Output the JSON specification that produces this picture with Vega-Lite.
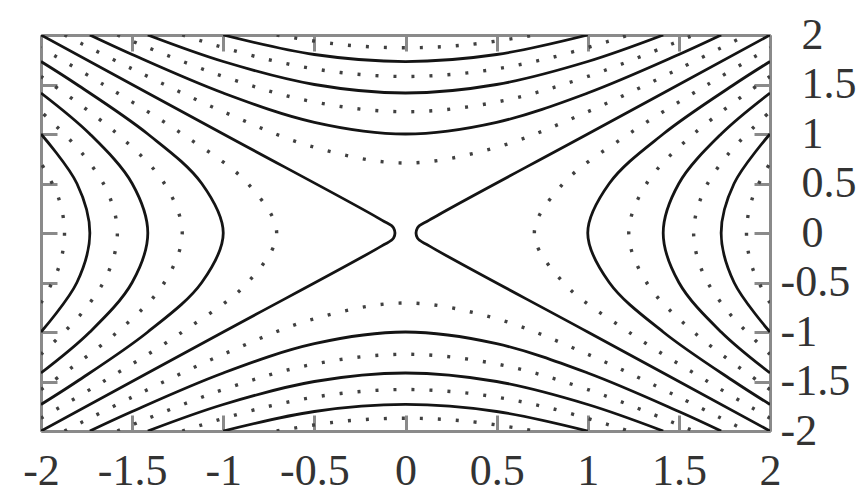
{
 "$schema": "https://vega.github.io/schema/vega-lite/v6.json",
 "width": 729, "height": 396,
 "autosize": {"type": "none"},
 "padding": {"left": 41, "top": 35, "right": 88, "bottom": 56},
 "background": "white",
 "config": {
  "view": {"stroke": null},
  "axis": {"grid": false, "title": null, "tickSize": -16, "tickWidth": 3, "tickColor": "#8a8a8a", "domainColor": "#8a8a8a", "domainWidth": 3, "labelFont": "Liberation Serif", "labelFontSize": 44, "labelColor": "#333", "labelOverlap": false, "labelFlush": false, "labelBound": false}
 },
 "datasets": {
  "solid": [
   {"k":1,"i":0,"x":2,"y":-1.732},{"k":1,"i":1,"x":1.803,"y":-1.5},{"k":1,"i":2,"x":1.414,"y":-1},{"k":1,"i":3,"x":1.118,"y":-0.5},{"k":1,"i":4,"x":1,"y":0},{"k":1,"i":5,"x":1.118,"y":0.5},{"k":1,"i":6,"x":1.414,"y":1},{"k":1,"i":7,"x":1.803,"y":1.5},{"k":1,"i":8,"x":2,"y":1.732},
   {"k":2,"i":0,"x":-2,"y":-1.732},{"k":2,"i":1,"x":-1.803,"y":-1.5},{"k":2,"i":2,"x":-1.414,"y":-1},{"k":2,"i":3,"x":-1.118,"y":-0.5},{"k":2,"i":4,"x":-1,"y":0},{"k":2,"i":5,"x":-1.118,"y":0.5},{"k":2,"i":6,"x":-1.414,"y":1},{"k":2,"i":7,"x":-1.803,"y":1.5},{"k":2,"i":8,"x":-2,"y":1.732},
   {"k":3,"i":0,"x":2,"y":-1.414},{"k":3,"i":1,"x":1.732,"y":-1},{"k":3,"i":2,"x":1.5,"y":-0.5},{"k":3,"i":3,"x":1.414,"y":0},{"k":3,"i":4,"x":1.5,"y":0.5},{"k":3,"i":5,"x":1.732,"y":1},{"k":3,"i":6,"x":2,"y":1.414},
   {"k":4,"i":0,"x":-2,"y":-1.414},{"k":4,"i":1,"x":-1.732,"y":-1},{"k":4,"i":2,"x":-1.5,"y":-0.5},{"k":4,"i":3,"x":-1.414,"y":0},{"k":4,"i":4,"x":-1.5,"y":0.5},{"k":4,"i":5,"x":-1.732,"y":1},{"k":4,"i":6,"x":-2,"y":1.414},
   {"k":5,"i":0,"x":2,"y":-1},{"k":5,"i":1,"x":1.803,"y":-0.5},{"k":5,"i":2,"x":1.732,"y":0},{"k":5,"i":3,"x":1.803,"y":0.5},{"k":5,"i":4,"x":2,"y":1},
   {"k":6,"i":0,"x":-2,"y":-1},{"k":6,"i":1,"x":-1.803,"y":-0.5},{"k":6,"i":2,"x":-1.732,"y":0},{"k":6,"i":3,"x":-1.803,"y":0.5},{"k":6,"i":4,"x":-2,"y":1},
   {"k":7,"i":0,"x":-1.732,"y":2},{"k":7,"i":1,"x":-1.5,"y":1.803},{"k":7,"i":2,"x":-1,"y":1.414},{"k":7,"i":3,"x":-0.5,"y":1.118},{"k":7,"i":4,"x":0,"y":1},{"k":7,"i":5,"x":0.5,"y":1.118},{"k":7,"i":6,"x":1,"y":1.414},{"k":7,"i":7,"x":1.5,"y":1.803},{"k":7,"i":8,"x":1.732,"y":2},
   {"k":8,"i":0,"x":-1.732,"y":-2},{"k":8,"i":1,"x":-1.5,"y":-1.803},{"k":8,"i":2,"x":-1,"y":-1.414},{"k":8,"i":3,"x":-0.5,"y":-1.118},{"k":8,"i":4,"x":0,"y":-1},{"k":8,"i":5,"x":0.5,"y":-1.118},{"k":8,"i":6,"x":1,"y":-1.414},{"k":8,"i":7,"x":1.5,"y":-1.803},{"k":8,"i":8,"x":1.732,"y":-2},
   {"k":9,"i":0,"x":-1.414,"y":2},{"k":9,"i":1,"x":-1,"y":1.732},{"k":9,"i":2,"x":-0.5,"y":1.5},{"k":9,"i":3,"x":0,"y":1.414},{"k":9,"i":4,"x":0.5,"y":1.5},{"k":9,"i":5,"x":1,"y":1.732},{"k":9,"i":6,"x":1.414,"y":2},
   {"k":10,"i":0,"x":-1.414,"y":-2},{"k":10,"i":1,"x":-1,"y":-1.732},{"k":10,"i":2,"x":-0.5,"y":-1.5},{"k":10,"i":3,"x":0,"y":-1.414},{"k":10,"i":4,"x":0.5,"y":-1.5},{"k":10,"i":5,"x":1,"y":-1.732},{"k":10,"i":6,"x":1.414,"y":-2},
   {"k":11,"i":0,"x":-1,"y":2},{"k":11,"i":1,"x":-0.5,"y":1.803},{"k":11,"i":2,"x":0,"y":1.732},{"k":11,"i":3,"x":0.5,"y":1.803},{"k":11,"i":4,"x":1,"y":2},
   {"k":12,"i":0,"x":-1,"y":-2},{"k":12,"i":1,"x":-0.5,"y":-1.803},{"k":12,"i":2,"x":0,"y":-1.732},{"k":12,"i":3,"x":0.5,"y":-1.803},{"k":12,"i":4,"x":1,"y":-2},
   {"k":13,"i":0,"x":-2,"y":2},{"k":13,"i":1,"x":-1,"y":1},{"k":13,"i":2,"x":-0.13,"y":0.13},{"k":13,"i":3,"x":-0.065,"y":0.05},{"k":13,"i":4,"x":-0.065,"y":-0.05},{"k":13,"i":5,"x":-0.13,"y":-0.13},{"k":13,"i":6,"x":-1,"y":-1},{"k":13,"i":7,"x":-2,"y":-2},
   {"k":14,"i":0,"x":2,"y":2},{"k":14,"i":1,"x":1,"y":1},{"k":14,"i":2,"x":0.13,"y":0.13},{"k":14,"i":3,"x":0.065,"y":0.05},{"k":14,"i":4,"x":0.065,"y":-0.05},{"k":14,"i":5,"x":0.13,"y":-0.13},{"k":14,"i":6,"x":1,"y":-1},{"k":14,"i":7,"x":2,"y":-2}
  ],
  "dotted": [
   {"k":21,"i":0,"x":2,"y":-1.871},{"k":21,"i":1,"x":1.658,"y":-1.5},{"k":21,"i":2,"x":1.225,"y":-1},{"k":21,"i":3,"x":0.866,"y":-0.5},{"k":21,"i":4,"x":0.707,"y":0},{"k":21,"i":5,"x":0.866,"y":0.5},{"k":21,"i":6,"x":1.225,"y":1},{"k":21,"i":7,"x":1.658,"y":1.5},{"k":21,"i":8,"x":2,"y":1.871},
   {"k":22,"i":0,"x":-2,"y":-1.871},{"k":22,"i":1,"x":-1.658,"y":-1.5},{"k":22,"i":2,"x":-1.225,"y":-1},{"k":22,"i":3,"x":-0.866,"y":-0.5},{"k":22,"i":4,"x":-0.707,"y":0},{"k":22,"i":5,"x":-0.866,"y":0.5},{"k":22,"i":6,"x":-1.225,"y":1},{"k":22,"i":7,"x":-1.658,"y":1.5},{"k":22,"i":8,"x":-2,"y":1.871},
   {"k":23,"i":0,"x":2,"y":-1.581},{"k":23,"i":1,"x":1.581,"y":-1},{"k":23,"i":2,"x":1.323,"y":-0.5},{"k":23,"i":3,"x":1.225,"y":0},{"k":23,"i":4,"x":1.323,"y":0.5},{"k":23,"i":5,"x":1.581,"y":1},{"k":23,"i":6,"x":2,"y":1.581},
   {"k":24,"i":0,"x":-2,"y":-1.581},{"k":24,"i":1,"x":-1.581,"y":-1},{"k":24,"i":2,"x":-1.323,"y":-0.5},{"k":24,"i":3,"x":-1.225,"y":0},{"k":24,"i":4,"x":-1.323,"y":0.5},{"k":24,"i":5,"x":-1.581,"y":1},{"k":24,"i":6,"x":-2,"y":1.581},
   {"k":25,"i":0,"x":2,"y":-1.225},{"k":25,"i":1,"x":1.772,"y":-0.8},{"k":25,"i":2,"x":1.631,"y":-0.4},{"k":25,"i":3,"x":1.581,"y":0},{"k":25,"i":4,"x":1.631,"y":0.4},{"k":25,"i":5,"x":1.772,"y":0.8},{"k":25,"i":6,"x":2,"y":1.225},
   {"k":26,"i":0,"x":-2,"y":-1.225},{"k":26,"i":1,"x":-1.772,"y":-0.8},{"k":26,"i":2,"x":-1.631,"y":-0.4},{"k":26,"i":3,"x":-1.581,"y":0},{"k":26,"i":4,"x":-1.631,"y":0.4},{"k":26,"i":5,"x":-1.772,"y":0.8},{"k":26,"i":6,"x":-2,"y":1.225},
   {"k":27,"i":0,"x":2,"y":-0.707},{"k":27,"i":1,"x":1.903,"y":-0.35},{"k":27,"i":2,"x":1.871,"y":0},{"k":27,"i":3,"x":1.903,"y":0.35},{"k":27,"i":4,"x":2,"y":0.707},
   {"k":28,"i":0,"x":-2,"y":-0.707},{"k":28,"i":1,"x":-1.903,"y":-0.35},{"k":28,"i":2,"x":-1.871,"y":0},{"k":28,"i":3,"x":-1.903,"y":0.35},{"k":28,"i":4,"x":-2,"y":0.707},
   {"k":31,"i":0,"x":-1.871,"y":2},{"k":31,"i":1,"x":-1.5,"y":1.658},{"k":31,"i":2,"x":-1,"y":1.225},{"k":31,"i":3,"x":-0.5,"y":0.866},{"k":31,"i":4,"x":0,"y":0.707},{"k":31,"i":5,"x":0.5,"y":0.866},{"k":31,"i":6,"x":1,"y":1.225},{"k":31,"i":7,"x":1.5,"y":1.658},{"k":31,"i":8,"x":1.871,"y":2},
   {"k":32,"i":0,"x":-1.871,"y":-2},{"k":32,"i":1,"x":-1.5,"y":-1.658},{"k":32,"i":2,"x":-1,"y":-1.225},{"k":32,"i":3,"x":-0.5,"y":-0.866},{"k":32,"i":4,"x":0,"y":-0.707},{"k":32,"i":5,"x":0.5,"y":-0.866},{"k":32,"i":6,"x":1,"y":-1.225},{"k":32,"i":7,"x":1.5,"y":-1.658},{"k":32,"i":8,"x":1.871,"y":-2},
   {"k":33,"i":0,"x":-1.581,"y":2},{"k":33,"i":1,"x":-1,"y":1.581},{"k":33,"i":2,"x":-0.5,"y":1.323},{"k":33,"i":3,"x":0,"y":1.225},{"k":33,"i":4,"x":0.5,"y":1.323},{"k":33,"i":5,"x":1,"y":1.581},{"k":33,"i":6,"x":1.581,"y":2},
   {"k":34,"i":0,"x":-1.581,"y":-2},{"k":34,"i":1,"x":-1,"y":-1.581},{"k":34,"i":2,"x":-0.5,"y":-1.323},{"k":34,"i":3,"x":0,"y":-1.225},{"k":34,"i":4,"x":0.5,"y":-1.323},{"k":34,"i":5,"x":1,"y":-1.581},{"k":34,"i":6,"x":1.581,"y":-2},
   {"k":35,"i":0,"x":-1.225,"y":2},{"k":35,"i":1,"x":-0.8,"y":1.772},{"k":35,"i":2,"x":-0.4,"y":1.631},{"k":35,"i":3,"x":0,"y":1.581},{"k":35,"i":4,"x":0.4,"y":1.631},{"k":35,"i":5,"x":0.8,"y":1.772},{"k":35,"i":6,"x":1.225,"y":2},
   {"k":36,"i":0,"x":-1.225,"y":-2},{"k":36,"i":1,"x":-0.8,"y":-1.772},{"k":36,"i":2,"x":-0.4,"y":-1.631},{"k":36,"i":3,"x":0,"y":-1.581},{"k":36,"i":4,"x":0.4,"y":-1.631},{"k":36,"i":5,"x":0.8,"y":-1.772},{"k":36,"i":6,"x":1.225,"y":-2},
   {"k":37,"i":0,"x":-0.707,"y":2},{"k":37,"i":1,"x":-0.35,"y":1.903},{"k":37,"i":2,"x":0,"y":1.871},{"k":37,"i":3,"x":0.35,"y":1.903},{"k":37,"i":4,"x":0.707,"y":2},
   {"k":38,"i":0,"x":-0.707,"y":-2},{"k":38,"i":1,"x":-0.35,"y":-1.903},{"k":38,"i":2,"x":0,"y":-1.871},{"k":38,"i":3,"x":0.35,"y":-1.903},{"k":38,"i":4,"x":0.707,"y":-2}
  ]
 },
 "layer": [
  {
   "data": {"name": "dotted"},
   "mark": {"type": "line", "interpolate": "catmull-rom", "stroke": "#404040", "strokeWidth": 3.4, "strokeDash": [3, 15], "strokeCap": "butt", "clip": true},
   "encoding": {
    "x": {"field": "x", "type": "quantitative", "scale": {"domain": [-2, 2], "nice": false, "zero": false}, "axis": {"orient": "top", "labels": false, "values": [-2,-1.5,-1,-0.5,0,0.5,1,1.5,2]}},
    "y": {"field": "y", "type": "quantitative", "scale": {"domain": [-2, 2], "nice": false, "zero": false}, "axis": {"orient": "left", "labels": false, "values": [-2,-1.5,-1,-0.5,0,0.5,1,1.5,2]}},
    "detail": {"field": "k", "type": "nominal"},
    "order": {"field": "i", "type": "quantitative"}
   }
  },
  {
   "data": {"name": "solid"},
   "mark": {"type": "line", "interpolate": "catmull-rom", "stroke": "#141414", "strokeWidth": 2.8, "clip": true},
   "encoding": {
    "x": {"field": "x", "type": "quantitative", "scale": {"domain": [-2, 2], "nice": false, "zero": false}, "axis": {"orient": "bottom", "values": [-2,-1.5,-1,-0.5,0,0.5,1,1.5,2], "labelPadding": 34, "labelExpr": "(datum.value < 0 ? '-' : '') + format(abs(datum.value), '')"}},
    "y": {"field": "y", "type": "quantitative", "scale": {"domain": [-2, 2], "nice": false, "zero": false}, "axis": {"orient": "right", "values": [-2,-1.5,-1,-0.5,0,0.5,1,1.5,2], "labelPadding": {"condition": {"test": "datum.value < 0", "value": 26}, "value": 47}, "labelExpr": "(datum.value < 0 ? '-' : '') + format(abs(datum.value), '')"}},
    "detail": {"field": "k", "type": "nominal"},
    "order": {"field": "i", "type": "quantitative"}
   }
  }
 ],
 "resolve": {"axis": {"x": "independent", "y": "independent"}}
}
